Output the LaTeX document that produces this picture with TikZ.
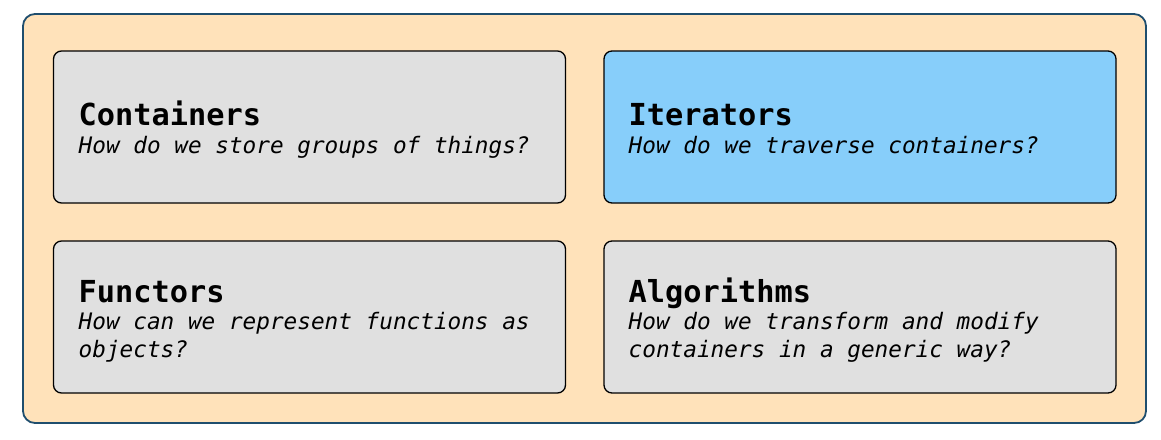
\documentclass[tikz,border=0pt]{standalone}
\usepackage{fontspec}
\setmonofont{DejaVu Sans Mono}
\definecolor{outerfill}{HTML}{FFE2BA}
\definecolor{outerborder}{HTML}{1F4E6E}
\definecolor{cardgray}{HTML}{E0E0E0}
\definecolor{cardblue}{HTML}{87CEFA}
\begin{document}
\begin{tikzpicture}[x=1pt,y=-1pt,
  outer/.style={draw=outerborder, fill=outerfill, line width=1.8pt, rounded corners=12pt},
  card/.style={draw=black, line width=1.3pt, rounded corners=8pt, minimum width=512pt, minimum height=152pt, inner sep=0pt},
  title/.style={anchor=base west, inner sep=0pt, font=\ttfamily\bfseries\fontsize{30.3}{36}\selectfont},
  sub/.style={anchor=base west, inner sep=0pt, align=left, font=\ttfamily\itshape\fontsize{22.7}{28}\selectfont}]
\useasboundingbox (0,0) rectangle (1161,439);
\draw[outer] (23,14) rectangle (1146,423);
\node[card, fill=cardgray] (containers) at (309.5,127) {};
\node[card, fill=cardblue] (iterators) at (860,127) {};
\node[card, fill=cardgray] (functors) at (309.5,317) {};
\node[card, fill=cardgray] (algorithms) at (860,317) {};
\node[title] (t1) at (78.5,125) {Containers};
\node[sub] (s1) at (78.5,153) {How do we store groups of things?};
\node[title] (t2) at (628.5,125) {Iterators};
\node[sub] (s2) at (628.5,153) {How do we traverse containers?};
\node[title] (t3) at (78.5,302) {Functors};
\node[sub] (s3) at (78.5,357) {How can we represent functions as\\objects?};
\node[title] (t4) at (628.5,302) {Algorithms};
\node[sub] (s4) at (628.5,357) {How do we transform and modify\\containers in a generic way?};
\end{tikzpicture}
\end{document}
